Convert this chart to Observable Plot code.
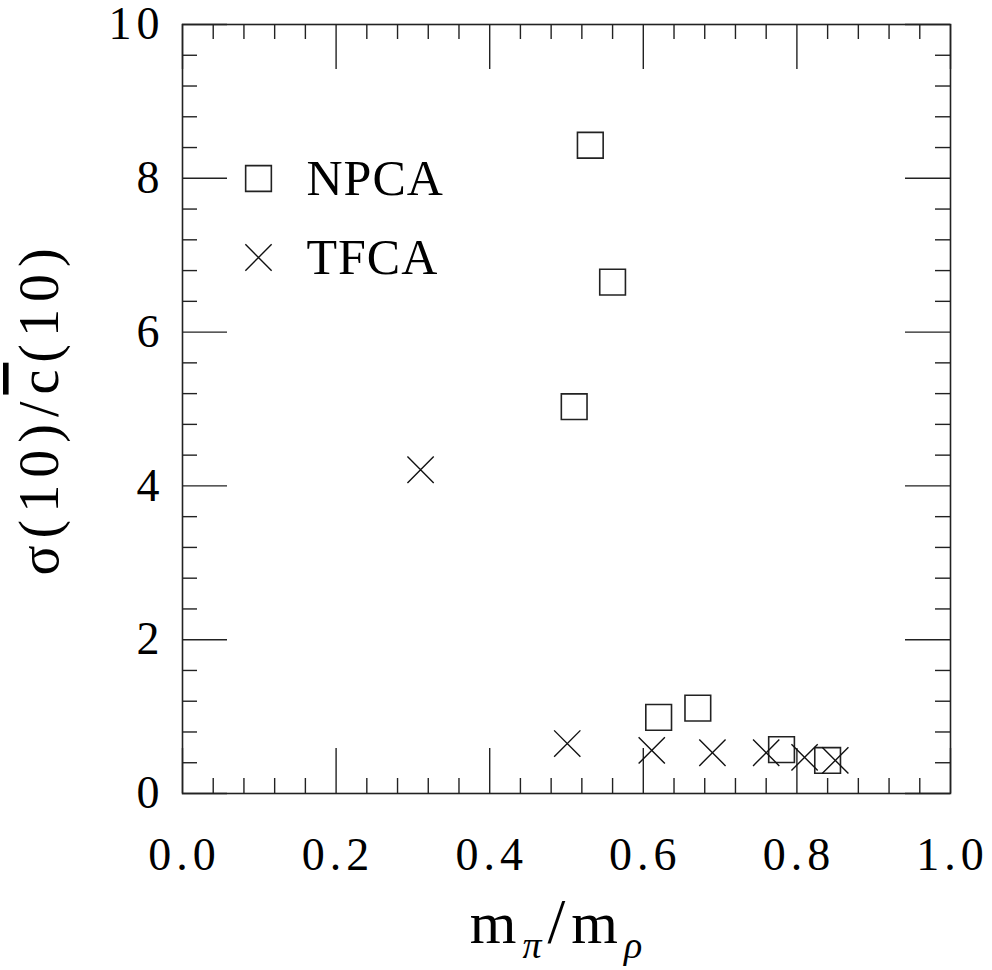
<!DOCTYPE html>
<html><head><meta charset="utf-8">
<script src="https://cdn.jsdelivr.net/npm/d3@7"></script>
<script src="https://cdn.jsdelivr.net/npm/@observablehq/plot@0.6"></script>
<style>
html,body{margin:0;padding:0;background:#fff}
svg{display:block}
</style>
</head><body><div id="chart"></div>
<script>
// ---- data ----
const seriesNames = ["NPCA", "TFCA"];
const npcaX = [0.531, 0.560, 0.510, 0.620, 0.671, 0.780, 0.840];
const npcaY = [8.43, 6.65, 5.03, 0.99, 1.11, 0.57, 0.43];
const tfcaX = [0.310, 0.501, 0.611, 0.690, 0.760, 0.810, 0.850];
const tfcaY = [4.21, 0.65, 0.56, 0.53, 0.53, 0.47, 0.43];
const xMajor = [0.0, 0.2, 0.4, 0.6, 0.8, 1.0];
const xMinor = [0.04, 0.08, 0.12, 0.16, 0.24, 0.28, 0.32, 0.36, 0.44, 0.48, 0.52, 0.56, 0.64, 0.68, 0.72, 0.76, 0.84, 0.88, 0.92, 0.96];
const yMajor = [0, 2, 4, 6, 8, 10];
const yMinor = [0.4, 0.8, 1.2, 1.6, 2.4, 2.8, 3.2, 3.6, 4.4, 4.8, 5.2, 5.6, 6.4, 6.8, 7.2, 7.6, 8.4, 8.8, 9.2, 9.6];
const xLabelParts = ["m", "π", "/", "m", "ρ"];
const yLabelParts = ["σ(10)/", "c", "(10)"];

const npca = npcaX.map((x, i) => ({x, y: npcaY[i]}));
const tfca = tfcaX.map((x, i) => ({x, y: tfcaY[i]}));

// ---- layout ----
const W = 992, H = 970, mL = 182, mR = 42, mT = 24, mB = 177;
const pw = W - mL - mR, ph = H - mT - mB;
const minorLen = 15, majorLen = 45;
const FONT = "Liberation Serif, Times New Roman, serif";
const xFmt = d => d.toFixed(1);
const yFmt = d => String(d);

const plot = Plot.plot({
  width: W, height: H,
  marginLeft: mL, marginRight: mR, marginTop: mT, marginBottom: mB,
  x: {domain: [0, 1], axis: null},
  y: {domain: [0, 10], axis: null},
  style: {fontFamily: FONT, background: "white", color: "black", overflow: "visible"},
  marks: [
    // bottom / top ticks
    Plot.ruleX(xMinor, {x: d => d, insetTop: ph - minorLen, stroke: "#222", strokeWidth: 1.4}),
    Plot.ruleX(xMinor, {x: d => d, insetBottom: ph - minorLen, stroke: "#222", strokeWidth: 1.4}),
    Plot.ruleX(xMajor, {x: d => d, insetTop: ph - majorLen, stroke: "#222", strokeWidth: 1.4}),
    Plot.ruleX(xMajor, {x: d => d, insetBottom: ph - majorLen, stroke: "#222", strokeWidth: 1.4}),
    // left / right ticks
    Plot.ruleY(yMinor, {y: d => d, insetRight: pw - minorLen, stroke: "#222", strokeWidth: 1.4}),
    Plot.ruleY(yMinor, {y: d => d, insetLeft: pw - minorLen, stroke: "#222", strokeWidth: 1.4}),
    Plot.ruleY(yMajor, {y: d => d, insetRight: pw - majorLen, stroke: "#222", strokeWidth: 1.4}),
    Plot.ruleY(yMajor, {y: d => d, insetLeft: pw - majorLen, stroke: "#222", strokeWidth: 1.4}),
    Plot.frame({stroke: "#222", strokeWidth: 1.6}),
    // tick labels
    Plot.text(xMajor, {x: d => d, frameAnchor: "bottom", dy: 62, dx: 2, text: xFmt,
      fontSize: 46, lineAnchor: "middle"}),
    Plot.text(yMajor, {y: d => d, frameAnchor: "left", dx: -18, text: yFmt,
      fontSize: 46, textAnchor: "end", lineAnchor: "middle"}),
    // data
    Plot.dot(npca, {x: "x", y: "y", symbol: "square", r: 14.5, stroke: "#222", strokeWidth: 1.6, fill: "none"}),
    Plot.dot(tfca, {x: "x", y: "y", symbol: "times", r: 12, stroke: "#111", strokeWidth: 1.4}),
    // legend
    Plot.dot([seriesNames[0]], {frameAnchor: "top-left", dx: 76, dy: 154, symbol: "square", r: 14.5, stroke: "#222", strokeWidth: 1.6, fill: "none"}),
    Plot.dot([seriesNames[1]], {frameAnchor: "top-left", dx: 76, dy: 233, symbol: "times", r: 12, stroke: "#111", strokeWidth: 1.4}),
    Plot.text([seriesNames[0]], {frameAnchor: "top-left", dx: 124, dy: 154, text: d => d, fontSize: 50,
      textAnchor: "start", lineAnchor: "middle"}),
    Plot.text([seriesNames[1]], {frameAnchor: "top-left", dx: 124, dy: 233, text: d => d, fontSize: 50,
      textAnchor: "start", lineAnchor: "middle"})
  ]
});

const svg = d3.select(plot);
const xTxt = xMajor.map(xFmt), yTxt = yMajor.map(yFmt);
svg.selectAll("text").each(function () {
  const t = this.textContent;
  if (xTxt.includes(t)) this.style.letterSpacing = "5px";
  else if (yTxt.includes(t)) this.style.letterSpacing = "5px";
  else if (seriesNames.includes(t)) this.style.letterSpacing = "1px";
});

// x label: m_pi / m_rho
const xs = plot.scale("x");
const xl = svg.append("text")
  .attr("x", xs.apply(0.5) - 10).attr("y", 943)
  .attr("text-anchor", "middle")
  .attr("font-family", FONT).attr("font-size", 60).attr("fill", "black");
xl.append("tspan").text(xLabelParts[0]);
xl.append("tspan").attr("font-size", 38).attr("font-style", "italic").attr("dy", 15).attr("dx", 6).text(xLabelParts[1]);
xl.append("tspan").attr("font-size", 64).attr("dy", -15).attr("dx", 6).text(xLabelParts[2]);
xl.append("tspan").attr("dx", 6).text(xLabelParts[3]);
xl.append("tspan").attr("font-size", 38).attr("font-style", "italic").attr("dy", 15).attr("dx", 6).text(xLabelParts[4]);

// y label: sigma(10)/cbar(10)
const yl = svg.append("text")
  .attr("transform", `translate(58,${mT + ph / 2}) rotate(-90)`)
  .attr("text-anchor", "middle")
  .attr("font-family", FONT).attr("font-size", 56).attr("fill", "black")
  .style("letter-spacing", "7px");
yl.append("tspan").text(yLabelParts[0]);
yl.append("tspan").style("text-decoration", "overline").text(yLabelParts[1]);
yl.append("tspan").text(yLabelParts[2]);

document.getElementById("chart").appendChild(plot);
</script>
</body></html>
